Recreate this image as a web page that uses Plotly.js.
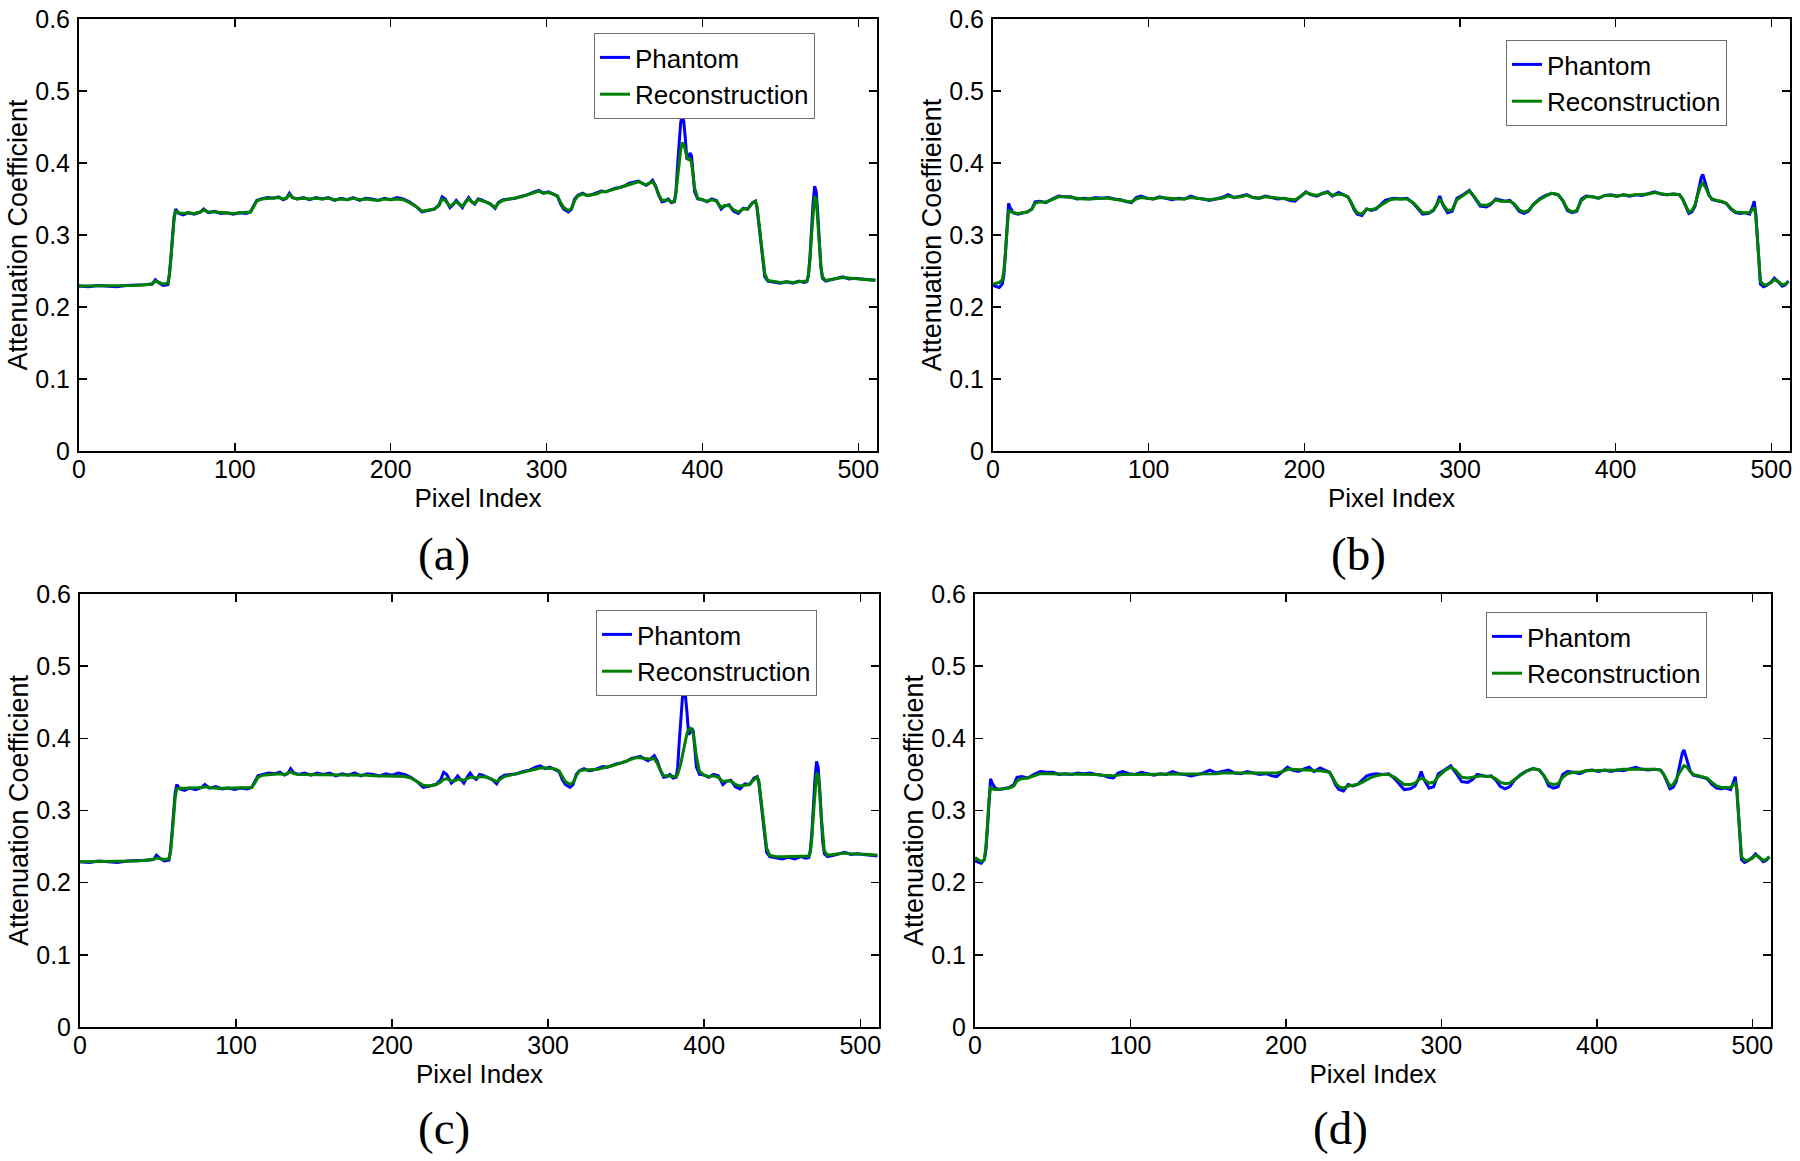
<!DOCTYPE html>
<html>
<head>
<meta charset="utf-8">
<script src="https://cdn.plot.ly/plotly-3.0.1.min.js"></script>
<style>html,body{margin:0;padding:0;background:#fff;}#chart{width:1800px;height:1161px;}</style>
</head>
<body>
<div id="chart"></div>
<script>
// ---------- DATA ----------
const pixelA = [
0,6,12,18,24,30,36,42,47,49,
51,54,57,58,59,60,61,62,64,67,
70,74,78,80,83,87,91,95,99,103,
107,110,112,114,117,121,125,128,131,133,
135,137,140,144,148,152,156,160,164,168,
172,176,180,184,188,192,196,200,204,208,
212,216,220,224,228,231,233,235,238,240,
242,244,246,248,250,252,254,256,258,261,
264,267,269,272,276,280,284,288,292,295,
298,301,304,307,309,311,314,316,318,320,
323,326,329,332,335,338,341,344,347,350,
353,356,359,362,364,366,368,370,372,374,
376,378,380,382,383,384,385,386,387,388,
389,390,391,392,393,394,395,397,400,403,
406,409,412,414,417,420,423,426,429,432,
434,435,436,437,438,439,440,442,446,450,
454,458,462,465,467,468,469,470,471,472,
473,474,475,476,477,479,483,487,490,494,
498,502,506,511];
const phantomA = [
.229,.228,.230,.229,.228,.230,.230,.231,.232,.238,
.234,.230,.231,.245,.270,.300,.325,.336,.330,.328,
.331,.329,.332,.336,.331,.333,.330,.331,.329,.331,
.330,.332,.340,.348,.350,.352,.351,.353,.349,.351,
.358,.352,.350,.352,.349,.352,.350,.352,.348,.351,
.349,.352,.348,.351,.350,.348,.351,.349,.352,.350,
.346,.340,.332,.334,.336,.342,.353,.350,.338,.342,
.348,.343,.338,.346,.352,.346,.343,.350,.349,.346,
.343,.337,.345,.349,.350,.351,.354,.356,.360,.362,
.358,.360,.357,.354,.343,.336,.332,.336,.350,.355,
.358,.355,.356,.358,.361,.360,.363,.365,.366,.368,
.372,.374,.375,.371,.369,.372,.376,.368,.355,.346,
.347,.350,.345,.346,.360,.395,.430,.455,.468,.458,
.435,.405,.408,.414,.410,.380,.360,.350,.349,.346,
.350,.348,.336,.340,.342,.333,.330,.337,.336,.345,
.347,.338,.320,.300,.280,.258,.242,.236,.234,.233,
.235,.233,.236,.234,.235,.245,.270,.310,.345,.368,
.360,.330,.290,.255,.240,.236,.238,.240,.242,.239,
.240,.239,.238,.237];
const reconA = [
.229,.229,.229,.229,.229,.230,.230,.231,.232,.236,
.234,.232,.233,.245,.268,.298,.322,.333,.331,.330,
.331,.330,.332,.335,.332,.332,.331,.331,.330,.331,
.331,.332,.339,.347,.350,.351,.351,.352,.350,.351,
.356,.352,.350,.351,.350,.351,.350,.351,.349,.350,
.349,.351,.349,.350,.349,.348,.350,.349,.350,.349,
.345,.340,.333,.334,.336,.341,.350,.348,.340,.343,
.346,.343,.340,.345,.350,.346,.344,.349,.348,.346,
.343,.338,.344,.348,.350,.351,.353,.356,.359,.361,
.358,.359,.357,.354,.345,.338,.334,.337,.348,.354,
.357,.355,.356,.357,.360,.360,.362,.364,.366,.368,
.371,.373,.374,.371,.370,.372,.374,.367,.356,.348,
.348,.349,.346,.347,.358,.378,.400,.418,.428,.426,
.418,.408,.405,.406,.400,.383,.365,.351,.349,.347,
.349,.347,.338,.341,.341,.335,.332,.336,.336,.344,
.347,.340,.322,.302,.282,.262,.246,.237,.235,.234,
.235,.234,.235,.235,.236,.243,.265,.300,.333,.354,
.350,.325,.288,.257,.242,.237,.238,.240,.241,.240,
.240,.239,.238,.237];
const reconC = [
.229,.229,.229,.229,.229,.230,.230,.231,.232,.234,
.233,.232,.233,.242,.265,.295,.318,.330,.331,.331,
.331,.331,.332,.333,.332,.331,.331,.331,.331,.331,
.331,.332,.338,.346,.349,.350,.350,.351,.350,.351,
.354,.351,.350,.350,.350,.350,.350,.350,.349,.349,
.349,.349,.349,.349,.348,.348,.348,.348,.348,.347,
.345,.340,.335,.334,.336,.339,.343,.344,.341,.341,
.343,.343,.342,.344,.346,.346,.345,.347,.347,.346,
.343,.340,.343,.347,.349,.351,.353,.356,.358,.359,
.359,.359,.358,.355,.348,.340,.336,.339,.348,.355,
.356,.356,.356,.357,.359,.360,.362,.364,.366,.368,
.371,.373,.373,.372,.371,.371,.372,.365,.356,.348,
.348,.348,.347,.347,.350,.356,.365,.376,.388,.399,
.407,.412,.414,.412,.406,.392,.375,.354,.349,.347,
.348,.346,.340,.341,.341,.336,.334,.335,.336,.343,
.346,.341,.324,.304,.284,.265,.248,.238,.236,.236,
.236,.236,.236,.236,.237,.242,.262,.295,.328,.352,
.349,.326,.290,.260,.244,.238,.239,.240,.241,.240,
.240,.239,.239,.238];

const pixelB = [
0,2,4,6,7,8,9,10,11,13,
16,19,22,25,27,30,34,38,42,46,
50,54,58,62,66,70,74,78,82,86,
89,92,95,99,103,107,111,115,119,123,
127,131,135,139,143,147,151,155,159,163,
167,171,175,179,183,187,191,194,198,201,
204,208,212,215,218,222,225,228,230,232,
234,237,240,243,246,249,252,255,258,262,
266,270,273,276,280,283,285,287,289,292,
295,298,302,306,309,313,317,320,323,326,
329,332,335,338,341,344,347,351,355,359,
363,366,369,372,375,378,381,385,389,393,
397,401,405,409,413,417,421,425,429,433,
437,441,443,445,447,449,451,453,455,456,
458,460,462,465,468,471,474,477,480,483,
486,488,489,490,491,492,493,495,497,500,
502,504,507,509,511];
const phantomB = [
.230,.228,.227,.232,.245,.275,.315,.344,.338,.331,
.329,.330,.332,.336,.346,.347,.345,.350,.354,.353,
.353,.350,.351,.350,.352,.351,.352,.350,.349,.346,
.345,.352,.354,.351,.350,.353,.351,.349,.351,.350,
.354,.351,.350,.348,.350,.352,.356,.352,.354,.356,
.352,.351,.354,.352,.350,.351,.348,.347,.355,.360,
.356,.354,.358,.360,.354,.359,.356,.353,.345,.335,
.329,.327,.336,.334,.336,.342,.348,.350,.351,.350,
.351,.344,.336,.329,.330,.334,.342,.354,.342,.331,
.333,.351,.356,.362,.353,.340,.339,.343,.350,.348,
.347,.348,.342,.333,.330,.333,.342,.350,.355,.358,
.356,.348,.334,.331,.333,.350,.354,.353,.351,.355,
.356,.354,.356,.354,.356,.355,.358,.360,.357,.356,
.357,.356,.350,.340,.330,.332,.340,.360,.380,.384,
.370,.355,.349,.348,.346,.344,.336,.331,.330,.331,
.329,.340,.347,.330,.300,.265,.232,.228,.230,.235,
.240,.236,.229,.231,.236];
const reconB = [
.232,.233,.234,.238,.250,.275,.310,.335,.333,.331,
.330,.331,.332,.336,.344,.346,.346,.349,.353,.353,
.352,.350,.350,.350,.351,.351,.351,.350,.349,.347,
.346,.350,.352,.351,.350,.352,.351,.350,.350,.350,
.352,.351,.350,.349,.350,.351,.354,.352,.353,.355,
.352,.351,.353,.352,.351,.351,.349,.349,.354,.359,
.357,.355,.358,.359,.355,.357,.356,.353,.346,.337,
.331,.329,.336,.335,.337,.341,.346,.349,.350,.350,
.350,.345,.338,.331,.331,.335,.341,.350,.343,.334,
.335,.349,.355,.361,.354,.342,.341,.344,.349,.347,
.347,.347,.343,.335,.332,.334,.342,.349,.354,.358,
.356,.348,.336,.332,.334,.348,.353,.353,.351,.355,
.355,.354,.356,.355,.356,.356,.357,.359,.357,.356,
.357,.356,.350,.341,.332,.334,.342,.358,.370,.372,
.365,.355,.350,.348,.347,.344,.337,.332,.331,.331,
.331,.335,.338,.328,.300,.268,.236,.231,.231,.234,
.238,.236,.231,.232,.235];
const reconD = [
.235,.232,.229,.232,.250,.280,.315,.333,.330,.329,
.329,.330,.331,.334,.341,.344,.345,.348,.351,.351,
.351,.350,.350,.350,.350,.350,.350,.350,.349,.348,
.348,.349,.350,.350,.350,.351,.351,.350,.350,.350,
.351,.351,.350,.350,.350,.351,.351,.351,.352,.352,
.352,.352,.352,.352,.352,.352,.351,.352,.354,.357,
.357,.356,.356,.356,.355,.355,.354,.353,.346,.338,
.333,.331,.334,.335,.336,.339,.343,.346,.348,.350,
.350,.346,.341,.336,.336,.338,.342,.345,.343,.338,
.339,.347,.355,.360,.356,.346,.345,.346,.348,.348,
.347,.347,.344,.339,.337,.338,.343,.349,.355,.358,
.356,.348,.338,.336,.337,.346,.351,.353,.353,.355,
.355,.355,.356,.356,.356,.357,.357,.358,.358,.357,
.357,.356,.350,.342,.334,.336,.343,.352,.360,.362,
.360,.354,.350,.348,.347,.345,.339,.334,.332,.332,
.332,.336,.338,.330,.300,.268,.236,.231,.231,.234,
.238,.236,.231,.232,.236];

const xTickVals = [0, 100, 200, 300, 400, 500];
const yTickVals = [0, 0.1, 0.2, 0.3, 0.4, 0.5, 0.6];
const yTickText = ['0', '0.1', '0.2', '0.3', '0.4', '0.5', '0.6'];
const seriesNames = ['Phantom', 'Reconstruction'];
const panelLabels = ['(a)', '(b)', '(c)', '(d)'];
const xTitle = 'Pixel Index';
const yTitles = ['Attenuation Coefficient', 'Attenuation Coeffieient', 'Attenuation Coefficient', 'Attenuation Coefficient'];

// ---------- STYLE / LAYOUT ----------
const W = 1800, H = 1161;
const FONT = 'Liberation Sans, Arial, Helvetica, sans-serif';
const BLUE = '#0000ff', GREEN = '#008000';

// panel plot areas in pixels [left, right, top, bottom]
const boxes = [
  [79, 877, 19, 451],
  [993, 1790, 19, 451],
  [80, 879, 594, 1027],
  [975, 1771, 594, 1027]
];
const legendPos = [[594, 33], [1506, 40], [596, 610], [1486, 612]];
const captionPos = [[444, 554], [1358, 554], [444, 1128], [1340, 1128]];

const panelData = [
  [pixelA, phantomA, reconA],
  [pixelB, phantomB, reconB],
  [pixelA, phantomA, reconC],
  [pixelB, phantomB, reconD]
];

const traces = [];
const layout = {
  width: W, height: H,
  margin: {l: 0, r: 0, t: 0, b: 0},
  paper_bgcolor: '#fff', plot_bgcolor: '#fff',
  showlegend: true,
  annotations: []
};

panelData.forEach((pd, i) => {
  const n = i + 1;
  const xa = n === 1 ? 'x' : 'x' + n;
  const ya = n === 1 ? 'y' : 'y' + n;
  const lg = n === 1 ? 'legend' : 'legend' + n;
  const [x, ph, rc] = pd;
  traces.push({x: x, y: ph, type: 'scatter', mode: 'lines', name: seriesNames[0],
    xaxis: xa, yaxis: ya, legend: lg, line: {color: BLUE, width: 3}});
  traces.push({x: x, y: rc, type: 'scatter', mode: 'lines', name: seriesNames[1],
    xaxis: xa, yaxis: ya, legend: lg, line: {color: GREEN, width: 3}});

  const b = boxes[i];
  const common = {
    ticks: 'inside', ticklen: 8, tickwidth: 1.5, tickcolor: '#000',
    showline: true, linecolor: '#000', linewidth: 2, mirror: 'ticks',
    showgrid: false, zeroline: false, automargin: false,
    tickfont: {family: FONT, size: 25, color: '#000'}
  };
  layout[n === 1 ? 'xaxis' : 'xaxis' + n] = Object.assign({}, common, {
    domain: [b[0] / W, b[1] / W], anchor: ya,
    range: [0, 512], tickmode: 'array', tickvals: xTickVals,
    ticklabelstandoff: -5,
    title: {text: xTitle, font: {family: FONT, size: 26, color: '#000'}, standoff: 1}
  });
  layout[n === 1 ? 'yaxis' : 'yaxis' + n] = Object.assign({}, common, {
    domain: [1 - b[3] / H, 1 - b[2] / H], anchor: xa,
    range: [0, 0.6], tickmode: 'array', tickvals: yTickVals, ticktext: yTickText,
    ticklabelstandoff: 2,
    title: {text: yTitles[i], font: {family: FONT, size: 27, color: '#000'}, standoff: 0}
  });
  layout[lg] = {
    x: legendPos[i][0] / W, y: 1 - legendPos[i][1] / H,
    xanchor: 'left', yanchor: 'top',
    bgcolor: '#fff', bordercolor: '#6e6e6e', borderwidth: 1,
    font: {family: FONT, size: 26, color: '#000'},
    itemwidth: 30, tracegroupgap: 0
  };
  layout.annotations.push({
    text: panelLabels[i], xref: 'paper', yref: 'paper',
    x: captionPos[i][0] / W, y: 1 - captionPos[i][1] / H,
    xanchor: 'center', yanchor: 'middle', showarrow: false,
    font: {family: 'Liberation Serif, Times New Roman, serif', size: 47, color: '#000'}
  });
});

Plotly.newPlot('chart', traces, layout, {displayModeBar: false, staticPlot: true});
</script>
</body>
</html>
